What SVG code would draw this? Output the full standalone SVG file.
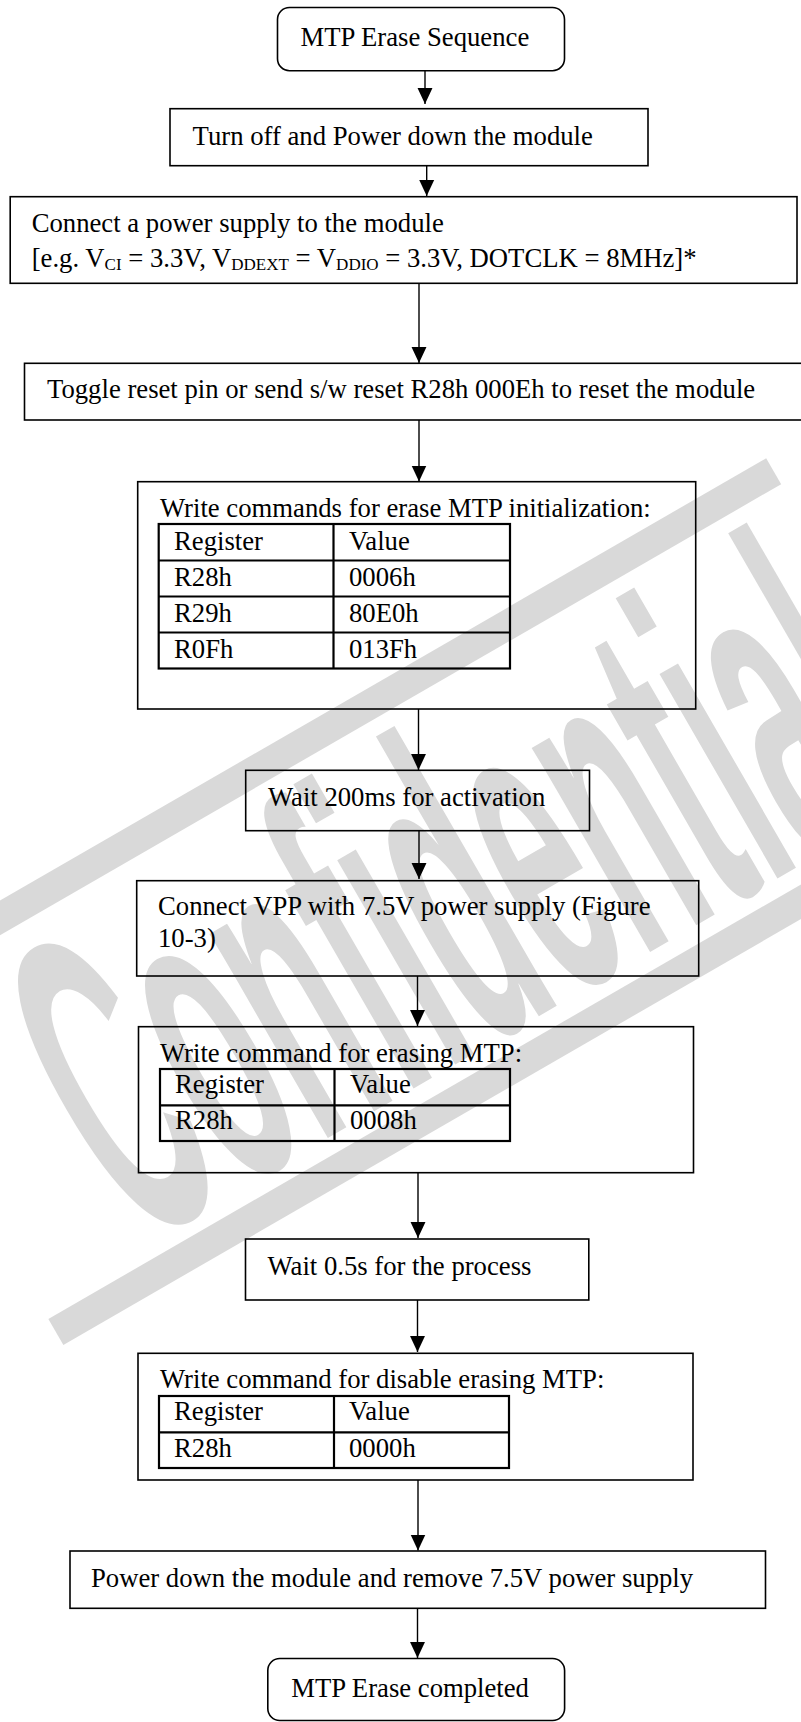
<svg xmlns="http://www.w3.org/2000/svg" width="801" height="1722" viewBox="0 0 801 1722">
<defs>
<style>
.box{fill:none;stroke:#000;stroke-width:1.6}
.tbl{fill:none;stroke:#000;stroke-width:2.2}
.t{font-family:"Liberation Serif","Times New Roman",serif;font-size:26.7px;fill:#000}
.sub{font-size:17px}
.conn{fill:none;stroke:#000;stroke-width:1.4}
.wm{fill:#d9d9d9}
</style>
<marker id="arr" markerUnits="userSpaceOnUse" markerWidth="16" markerHeight="16" viewBox="0 0 15 14" refX="15" refY="7" orient="auto">
<path d="M0,0 L15,7 L0,14 Z" fill="#000"/>
</marker>
</defs>
<rect width="801" height="1722" fill="#fff"/>
<g id="watermark" transform="translate(400,900) rotate(-30)">
<rect class="wm" x="-600" y="-199.5" width="1138" height="30"/>
<rect class="wm" x="-514" y="187" width="1100" height="30"/>
<text transform="translate(-400,170) scale(1,2.35)" x="0" y="0" font-family="Liberation Sans, Arial, sans-serif" font-weight="bold" font-size="190" textLength="900" lengthAdjust="spacingAndGlyphs" class="wm">Confidential</text>
</g>
<g id="connectors">
<line class="conn" x1="425" y1="70.7" x2="425" y2="104" marker-end="url(#arr)"/>
<line class="conn" x1="426.7" y1="165.7" x2="426.7" y2="196" marker-end="url(#arr)"/>
<line class="conn" x1="419" y1="283.3" x2="419" y2="363" marker-end="url(#arr)"/>
<line class="conn" x1="419" y1="420" x2="419" y2="481.5" marker-end="url(#arr)"/>
<line class="conn" x1="418.5" y1="709" x2="418.5" y2="770" marker-end="url(#arr)"/>
<line class="conn" x1="419" y1="830.7" x2="419" y2="879" marker-end="url(#arr)"/>
<line class="conn" x1="417.5" y1="976" x2="417.5" y2="1026" marker-end="url(#arr)"/>
<line class="conn" x1="418" y1="1172.7" x2="418" y2="1238" marker-end="url(#arr)"/>
<line class="conn" x1="417.5" y1="1300" x2="417.5" y2="1352" marker-end="url(#arr)"/>
<line class="conn" x1="418" y1="1480" x2="418" y2="1550.5" marker-end="url(#arr)"/>
<line class="conn" x1="417.5" y1="1608.3" x2="417.5" y2="1658" marker-end="url(#arr)"/>
</g>
<g id="start">
<rect class="box" x="277.5" y="7.5" width="287" height="63.2" rx="12"/>
<text class="t" x="300.5" y="46">MTP Erase Sequence</text>
</g>
<g id="power-down">
<rect class="box" x="170" y="108.7" width="478" height="57"/>
<text class="t" x="192.6" y="145">Turn off and Power down the module</text>
</g>
<g id="connect-supply">
<rect class="box" x="10.2" y="196.7" width="786.8" height="86.6"/>
<text class="t" x="31.7" y="231.7">Connect a power supply to the module</text>
<text class="t" x="31.7" y="266.7">[e.g. V<tspan class="sub" dy="3">CI</tspan><tspan dy="-3"> = 3.3V, V</tspan><tspan class="sub" dy="3">DDEXT</tspan><tspan dy="-3"> = V</tspan><tspan class="sub" dy="3">DDIO</tspan><tspan dy="-3"> = 3.3V, DOTCLK = 8MHz]*</tspan></text>
</g>
<g id="reset">
<rect class="box" x="24.5" y="363.3" width="790" height="56.7"/>
<text class="t" x="47" y="398.3">Toggle reset pin or send s/w reset R28h 000Eh to reset the module</text>
</g>
<g id="init-erase">
<rect class="box" x="137.7" y="481.7" width="558" height="227.3"/>
<text class="t" x="160" y="517">Write commands for erase MTP initialization:</text>
<rect class="tbl" x="158.7" y="524" width="351.3" height="144.5"/>
<line class="tbl" x1="333.5" y1="524" x2="333.5" y2="668.5"/>
<line class="tbl" x1="158.7" y1="560.5" x2="510" y2="560.5"/>
<line class="tbl" x1="158.7" y1="596.5" x2="510" y2="596.5"/>
<line class="tbl" x1="158.7" y1="632.5" x2="510" y2="632.5"/>
<text class="t" x="174" y="550">Register</text>
<text class="t" x="349" y="550">Value</text>
<text class="t" x="174" y="586">R28h</text>
<text class="t" x="349" y="586">0006h</text>
<text class="t" x="174" y="622">R29h</text>
<text class="t" x="349" y="622">80E0h</text>
<text class="t" x="174" y="658">R0Fh</text>
<text class="t" x="349" y="658">013Fh</text>
</g>
<g id="wait-200ms">
<rect class="box" x="245.7" y="770.3" width="343.8" height="60.4"/>
<text class="t" x="268" y="806">Wait 200ms for activation</text>
</g>
<g id="connect-vpp">
<rect class="box" x="136.7" y="880.7" width="562" height="95.3"/>
<text class="t" x="158" y="915">Connect VPP with 7.5V power supply (Figure</text>
<text class="t" x="158" y="946.5">10-3)</text>
</g>
<g id="erase-cmd">
<rect class="box" x="138.5" y="1026.7" width="555" height="146"/>
<text class="t" x="160" y="1061.7">Write command for erasing MTP:</text>
<rect class="tbl" x="160" y="1069" width="350" height="72"/>
<line class="tbl" x1="334.5" y1="1069" x2="334.5" y2="1141"/>
<line class="tbl" x1="160" y1="1105.3" x2="510" y2="1105.3"/>
<text class="t" x="175" y="1093.3">Register</text>
<text class="t" x="350" y="1093.3">Value</text>
<text class="t" x="175" y="1129">R28h</text>
<text class="t" x="350" y="1129">0008h</text>
</g>
<g id="wait-05s">
<rect class="box" x="245.5" y="1239" width="343.3" height="61"/>
<text class="t" x="267.5" y="1275">Wait 0.5s for the process</text>
</g>
<g id="disable-erase">
<rect class="box" x="138" y="1353.3" width="555" height="126.7"/>
<text class="t" x="160" y="1388.3">Write command for disable erasing MTP:</text>
<rect class="tbl" x="159" y="1396" width="350" height="72"/>
<line class="tbl" x1="334" y1="1396" x2="334" y2="1468"/>
<line class="tbl" x1="159" y1="1432.3" x2="509" y2="1432.3"/>
<text class="t" x="174" y="1420">Register</text>
<text class="t" x="349" y="1420">Value</text>
<text class="t" x="174" y="1456.5">R28h</text>
<text class="t" x="349" y="1456.5">0000h</text>
</g>
<g id="remove-supply">
<rect class="box" x="70" y="1551" width="695.5" height="57.3"/>
<text class="t" x="91" y="1586.7">Power down the module and remove 7.5V power supply</text>
</g>
<g id="end">
<rect class="box" x="267.8" y="1658.5" width="296.8" height="62" rx="12"/>
<text class="t" x="291.3" y="1696.7">MTP Erase completed</text>
</g>
</svg>
